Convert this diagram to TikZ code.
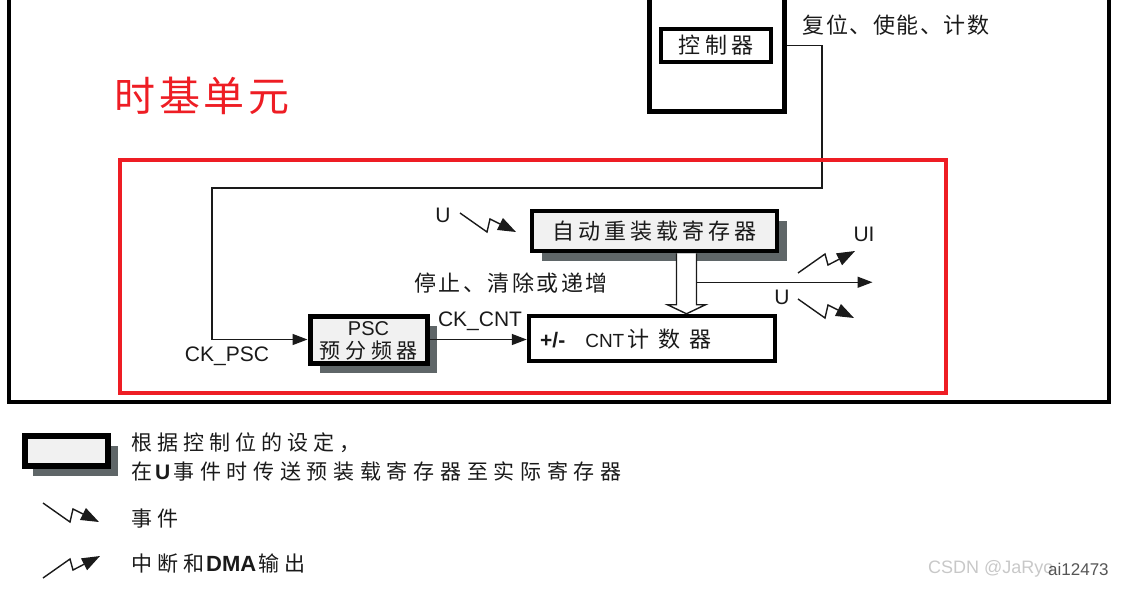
\documentclass[tikz,border=0pt]{standalone}
\usepackage{fontspec}
\setmainfont{Liberation Sans}
\newfontfamily\cjk{Noto Sans CJK SC}
\usetikzlibrary{arrows.meta,shadows,calc}
\makeatletter
\newcommand\cjkspaced[2]{\def\cjksp@amt{#1}\cjksp@first#2\relax}
\def\cjksp@first#1{#1\cjksp@loop}
\def\cjksp@loop#1{\ifx\relax#1\else\kern\cjksp@amt\relax#1\expandafter\cjksp@loop\fi}
\makeatother
\definecolor{boxgray}{HTML}{F1F1F1}
\definecolor{shadowgray}{HTML}{5F6668}
\definecolor{markred}{HTML}{EE1D24}
\definecolor{inkc}{HTML}{1A1A1A}
\definecolor{wmgray}{HTML}{C8C8C8}
\definecolor{aigray}{HTML}{555555}
\tikzset{
  conn/.style={line width=1.5pt, draw=inkc},
  tip/.style={-{Triangle[length=15pt,width=11pt]}},
  regbox/.style={draw=black, line width=4.5pt, fill=boxgray, inner sep=0pt,
     drop shadow={shadow xshift=10pt, shadow yshift=-10pt, fill=shadowgray, opacity=1}},
  plainbox/.style={draw=black, line width=4.5pt, fill=white, inner sep=0pt},
  lbl/.style={inner sep=0pt, text=inkc, font=\fontsize{21}{24}\selectfont},
  cjklbl/.style={inner sep=0pt, text=inkc, font=\cjk\fontsize{22}{24}\selectfont},
  evtsym/.pic={\draw[line width=1.4pt, draw=inkc, -{Triangle[length=18pt,width=13pt]}]
      (0,0) -- (27,19) -- (30,6) -- (56,19);},
  irqsym/.pic={\draw[line width=1.4pt, draw=inkc, -{Triangle[length=18pt,width=13pt]}]
      (0,0) -- (27,-19) -- (30,-8) -- (57,-22);}
}
\begin{document}
\begin{tikzpicture}[x=1pt,y=-1pt]
\useasboundingbox (0,0) rectangle (1121,590);
% outer frame
\draw[line width=4pt, line join=miter] (9,-5) -- (9,402) -- (1109,402) -- (1109,-5);
% title
\node[inner sep=0pt, text=markred, font=\cjk\fontsize{41}{44}\selectfont] (title) at (202,96) {\cjkspaced{3.5pt}{时基单元}};
% controller
\node[draw=black, line width=5pt, minimum width=134.5pt, minimum height=131pt, inner sep=0pt] (ctl) at (716.75,45.5) {};
\node[draw=black, line width=4pt, fill=white, minimum width=110pt, minimum height=33pt, inner sep=0pt, font=\cjk\fontsize{22}{24}\selectfont, text=inkc] (ctlin) at (716,45.5) {\cjkspaced{5pt}{控制器}};
\node[cjklbl] (rst) at (896,25) {\cjkspaced{1.5pt}{复位、使能、计数}};
% registers
\node[regbox, minimum width=245pt, minimum height=40pt, font=\cjk\fontsize{22}{24}\selectfont, text=inkc] (ar) at (654.5,231) {\cjkspaced{4pt}{自动重装载寄存器}};
\node[regbox, line width=5pt, minimum width=117pt, minimum height=47pt] (psc) at (368.5,339.5) {};
\node[lbl, font=\fontsize{20}{22}\selectfont] (pscA) at ($(psc.center)+(0,-11)$) {PSC};
\node[cjklbl, font=\cjk\fontsize{21}{22}\selectfont] (pscB) at ($(psc.center)+(0,11.5)$) {\cjkspaced{5pt}{预分频器}};
\node[plainbox, minimum width=246pt, minimum height=45pt] (cnt) at (652,338.5) {};
\node[anchor=west, inner sep=0pt, text=inkc, font=\fontsize{19}{22}\selectfont] (cnttxt) at (540,339) {{\fontsize{21}{22}\selectfont\bfseries +/-}\hspace{20pt}CNT\hspace{3pt}{\cjk\fontsize{22}{22}\selectfont\cjkspaced{9pt}{计数器}}};
% labels
\node[cjklbl] (stop) at (511,283) {\cjkspaced{2.5pt}{停止、清除或递增}};
\node[lbl] (ckpsc) at (227,356) {CK\_PSC};
\node[lbl] (ckcnt) at (480,321) {CK\_CNT};
\node[lbl] (uin) at (443,215) {U};
\node[lbl] (ui) at (864,234) {UI};
\node[lbl] (uout) at (782,297) {U};
% connectors
\coordinate (t1) at (822,188);
\coordinate (t2) at (212,188);
\draw[conn, tip] (ctl.east |- ctlin.east) -| (t1) -- (t2) |- (psc.west);
\draw[conn, tip] (psc.east) -- (psc.east -| cnt.west);
\coordinate (hl) at ($(ar.south)+(22,0)$);
\draw[line width=1.4pt, draw=inkc, fill=white, line join=miter]
  (hl) -- ($(hl |- cnt.north)+(0,-9)$) -- ++(-9,0) -- ($(hl |- cnt.north)+(10,0)$)
  -- ($(hl |- cnt.north)+(29,-9)$) -- ++(-9,0) -- ($(hl)+(20,0)$);
\coordinate (uend) at ($(hl)+(196,29)$);
\draw[conn, tip] ($(hl)+(20,29)$) -- (uend);
% events / interrupts
\pic at (460,213) {evtsym};
\pic at (798,273) {irqsym};
\pic at (798,299) {evtsym};
% red frame
\node[draw=markred, line width=4pt, minimum width=826.5pt, minimum height=233pt, inner sep=0pt] (tb) at (532.75,276.5) {};
% legend
\node[regbox, line width=6pt, minimum width=83pt, minimum height=30pt,
   drop shadow={shadow xshift=8pt, shadow yshift=-10pt, fill=shadowgray, opacity=1}] (leg) at (66.7,451) {};
\node[anchor=west, inner sep=0pt, text=inkc, font=\cjk\fontsize{21}{22}\selectfont] (leg1) at (131,443) {\cjkspaced{5pt}{根据控制位的设定，}};
\node[anchor=west, inner sep=0pt, text=inkc, font=\cjk\fontsize{21}{22}\selectfont] (leg2) at (131,471) {在\kern3pt{\fontspec{Liberation Sans}\bfseries U}\kern3pt\cjkspaced{5.7pt}{事件时传送预装载寄存器至实际寄存器}};
\pic at (43,503) {evtsym};
\node[anchor=west, inner sep=0pt, text=inkc, font=\cjk\fontsize{21}{22}\selectfont] (leg3) at (131,519) {\cjkspaced{5pt}{事件}};
\pic at (43,578) {irqsym};
\node[anchor=west, inner sep=0pt, text=inkc, font=\cjk\fontsize{21}{22}\selectfont] (leg4) at (131,564) {\cjkspaced{5pt}{中断和}\kern2pt{\fontspec{Liberation Sans}\fontsize{22}{22}\selectfont\bfseries DMA}\kern2pt\cjkspaced{5pt}{输出}};
% watermark
\node[anchor=west, inner sep=0pt, text=wmgray, font=\fontsize{18}{20}\selectfont] (wm) at (928,569) {CSDN @JaRyo};
\node[anchor=west, inner sep=0pt, text=aigray, font=\fontsize{17}{20}\selectfont] (ai) at (1048,569) {ai12473};
\end{tikzpicture}
\end{document}
